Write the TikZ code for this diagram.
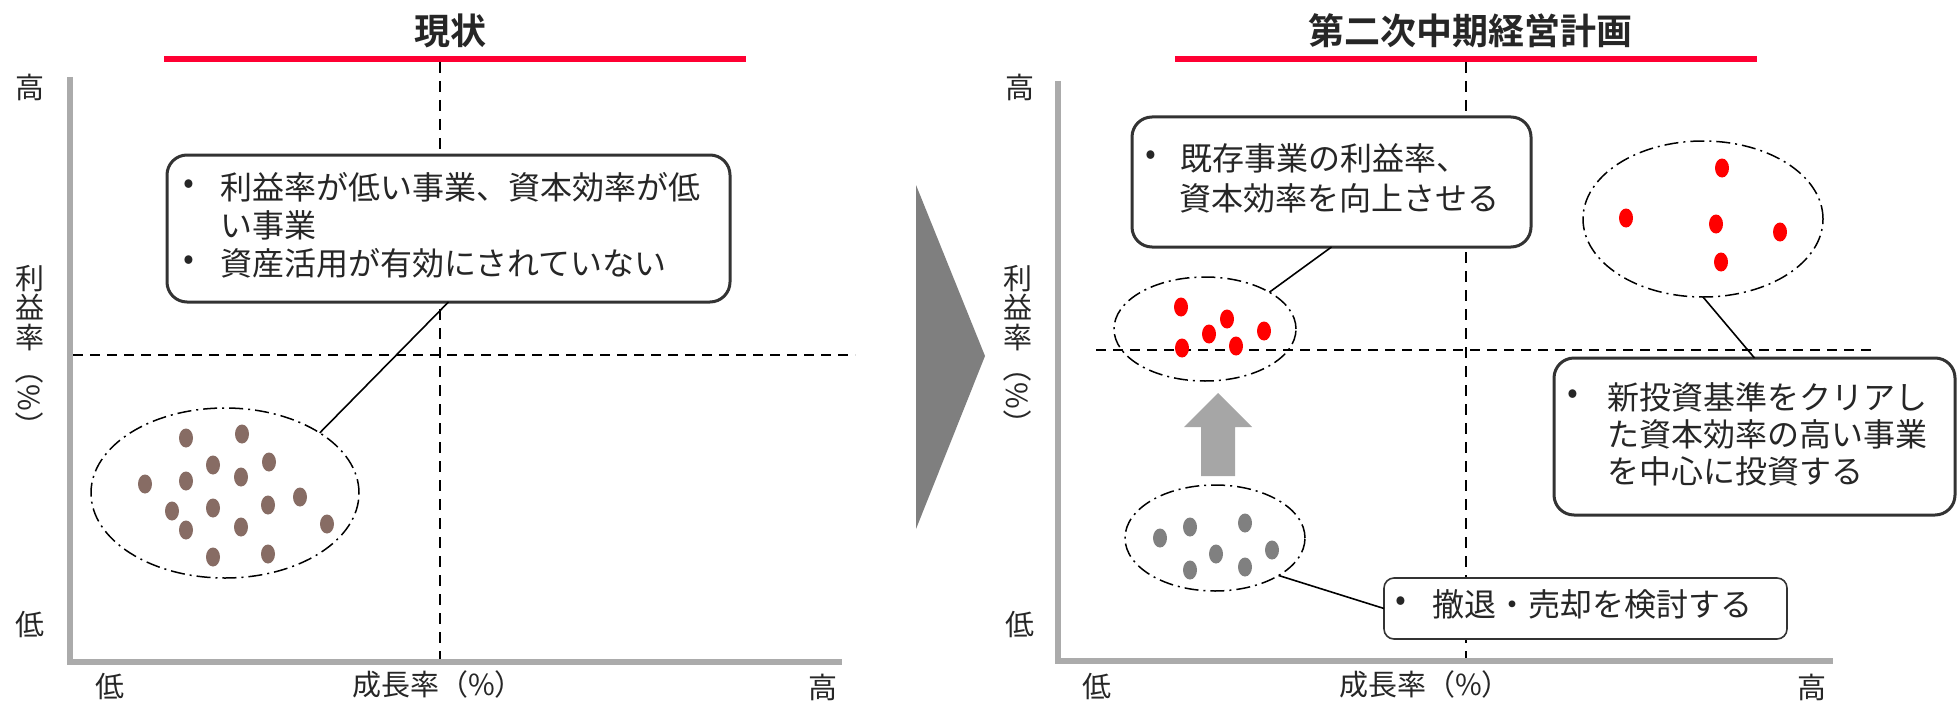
\documentclass[tikz,border=0pt]{standalone}
\usepackage{fontspec}
\setmainfont{Noto Sans CJK JP}[BoldFont={Noto Sans CJK JP Bold}]
\usetikzlibrary{shapes.geometric}
\definecolor{axisgray}{HTML}{ABABAB}
\definecolor{titlered}{HTML}{FF0033}
\definecolor{txt}{HTML}{262626}
\definecolor{dotbrown}{HTML}{876C64}
\definecolor{dotgray}{HTML}{808080}
\definecolor{dotred}{HTML}{FF0000}
\definecolor{arrowgray}{HTML}{A6A6A6}
\definecolor{trigray}{HTML}{7F7F7F}
\definecolor{boxline}{HTML}{333333}
\begin{document}
\begin{tikzpicture}[x=0.5pt,y=-0.5pt,
  every node/.style={inner sep=0pt, outer sep=0pt, text=txt},
  titletext/.style={font=\fontsize{18}{20}\selectfont\bfseries},
  axislabel/.style={font=\fontsize{14.5}{16}\selectfont},
  vlabel/.style={align=center, font=\fontsize{14.5}{14.75}\selectfont},
  boxtext/.style={font=\fontsize{16}{19}\selectfont, anchor=west},
  bulletmark/.style={font=\fontsize{16}{19}\selectfont},
  callout/.style={draw=boxline, line width=1.5pt, rounded corners=10pt, fill=white},
  smallcallout/.style={draw=boxline, line width=0.8pt, rounded corners=5pt, fill=white},
  axisline/.style={draw=axisgray, line width=2.75pt},
  redline/.style={draw=titlered, line width=3pt},
  vdash/.style={draw=black, line width=0.9pt, dash pattern=on 5.5pt off 4pt},
  hdash/.style={draw=black, line width=1.2pt, dash pattern=on 5pt off 3.5pt},
  cluster/.style={ellipse, draw=black, line width=0.75pt, dash pattern=on 7pt off 2.5pt on 1pt off 2.5pt},
  conn/.style={draw=black, line width=0.8pt},
]
\useasboundingbox (0,0) rectangle (1958,701);

% ---------------- left panel ----------------
\node[titletext] (t1) at (450,31) {現状};
\draw[redline] (164,59) -- (746,59);
\draw[vdash] (440,62) -- (440,660);
\draw[hdash] (73,355) -- (855,355);
\draw[axisline] (70,77) -- (70,662) -- (842,662);

\node[axislabel] (lhi) at (30,87) {高};
\node[vlabel] (lylab) at (30,308) {利\\益\\率};
\node[axislabel, rotate=-90] (lypct) at (30,398) {（\%）};
\node[axislabel] (llo) at (30,625) {低};
\node[axislabel] (lxlo) at (110,687) {低};
\node[axislabel] (lxlab) at (438,684) {成長率（\%）};
\node[axislabel] (lxhi) at (823,687) {高};

\node[cluster, minimum width=134pt, minimum height=85pt] (lell) at (225,493) {};
\foreach \px/\py in {186/438,242/434,213/465,269/462,145/484,186/481,241/477,300/497,
                     172/511,213/508,268/505,327/524,186/530,241/527,213/557,268/554}
  \fill[dotbrown] (\px,\py) ellipse [x radius=3.5pt, y radius=4.75pt];

\node[callout, minimum width=281.5pt, minimum height=73.5pt] (lbox) at (448.5,228.5) {};
\node[bulletmark] (lb1) at (189,187) {•};
\node[boxtext] (ll1) at (220,187) {利益率が低い事業、資本効率が低};
\node[boxtext] (ll2) at (220,225) {い事業};
\node[bulletmark] (lb2) at (189,263) {•};
\node[boxtext] (ll3) at (220,263) {資産活用が有効にされていない};
\draw[conn] (lbox.south) -- (lell.north east);

% ---------------- middle triangle ----------------
\fill[trigray] (916,185) -- (985,356) -- (916,529) -- cycle;

% ---------------- right panel ----------------
\node[titletext] (t2) at (1470,31) {第二次中期経営計画};
\draw[redline] (1175,59) -- (1757,59);
\draw[vdash] (1466,62) -- (1466,659);
\draw[hdash] (1096,350) -- (1877,350);
\draw[axisline] (1058,81) -- (1058,661) -- (1833,661);

\node[axislabel] (rhi) at (1020,87) {高};
\node[vlabel] (rylab) at (1018,308) {利\\益\\率};
\node[axislabel, rotate=-90] (rypct) at (1018,396) {（\%）};
\node[axislabel] (rlo) at (1020,625) {低};
\node[axislabel] (rxlo) at (1097,687) {低};
\node[axislabel] (rxlab) at (1425,684) {成長率（\%）};
\node[axislabel] (rxhi) at (1812,687) {高};

% clusters
\node[cluster, minimum width=91pt, minimum height=52pt] (rell1) at (1205,329) {};
\foreach \px/\py in {1181/307,1227/319,1209/334,1264/331,1182/348,1236/346}
  \fill[dotred] (\px,\py) ellipse [x radius=3.5pt, y radius=4.75pt];

\node[cluster, minimum width=120pt, minimum height=78pt] (rell2) at (1703,219) {};
\foreach \px/\py in {1722/168,1626/218,1716/224,1780/232,1721/262}
  \fill[dotred] (\px,\py) ellipse [x radius=3.5pt, y radius=4.75pt];

\node[cluster, minimum width=90pt, minimum height=53pt] (rell3) at (1215,538) {};
\foreach \px/\py in {1160/538,1190/527,1245/523,1216/554,1272/550,1190/570,1245/567}
  \fill[dotgray] (\px,\py) ellipse [x radius=3.5pt, y radius=4.75pt];

% up arrow
\fill[arrowgray] (1218,393) -- (1252,427) -- (1235,427) -- (1235,476) -- (1201,476) -- (1201,427) -- (1184,427) -- cycle;

% callouts
\node[callout, minimum width=199.5pt, minimum height=65pt] (rbox1) at (1331.5,182) {};
\node[bulletmark] (r1b) at (1151,158) {•};
\node[boxtext] (r1l1) at (1180,158) {既存事業の利益率、};
\node[boxtext] (r1l2) at (1179,198) {資本効率を向上させる};
\draw[conn] (rbox1.south) -- (rell1.north east);

\node[callout, minimum width=200.5pt, minimum height=78.5pt] (rbox2) at (1754.5,436.5) {};
\node[bulletmark] (r2b) at (1573,397) {•};
\node[boxtext] (r2l1) at (1607,397) {新投資基準をクリアし};
\node[boxtext] (r2l2) at (1607,434) {た資本効率の高い事業};
\node[boxtext] (r2l3) at (1607,471) {を中心に投資する};
\draw[conn] (rell2.south) -- (rbox2.north);

\node[smallcallout, minimum width=201.5pt, minimum height=30.5pt] (rbox3) at (1585.5,608.5) {};
\node[bulletmark] (r3b) at (1401,604) {•};
\node[boxtext] (r3l1) at (1432,604) {撤退・売却を検討する};
\draw[conn] (rell3.south east) -- (rbox3.west);
\end{tikzpicture}
\end{document}
